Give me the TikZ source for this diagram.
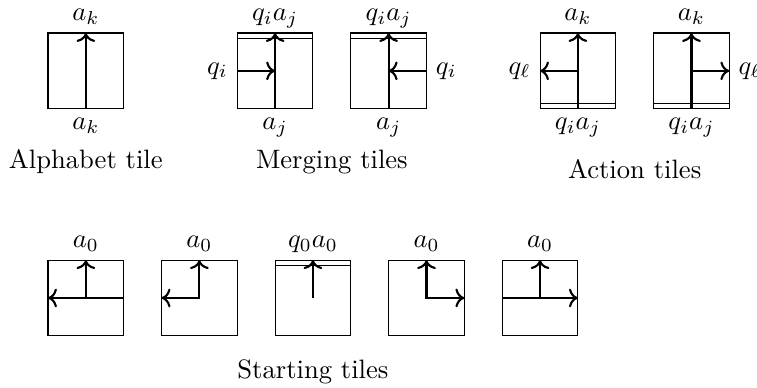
\documentclass[tikz,border=0pt]{standalone}
\usepackage{tikz}
\usetikzlibrary{arrows.meta, positioning, calc}

\begin{document}
\begin{tikzpicture}[
  tile/.style={rectangle, draw, minimum size=1cm, inner sep=0pt, outer sep=0pt},
  wire/.style={->, thick},
  seam/.style={draw},
  toplbl/.style={above, text depth=0.25ex},
  botlbl/.style={below},
  caption/.style={font=\normalsize},
]
  \useasboundingbox (-0.634,-3.689) rectangle (9.366,1.436);

  % Alphabet tile
  \node[tile] (alpha) at (0.5,0.5) {};
  \draw[wire] (alpha.south) -- (alpha.north);
  \node[toplbl] (alpha-top) at (alpha.north) {$a_k$};
  \node[botlbl] (alpha-bot) at (alpha.south) {$a_k$};
  \node[caption] (alpha-cap) at (0.5,-0.70) {Alphabet tile};

  % Merging tiles
  \node[tile] (merge-l) at (3.0,0.5) {};
  \draw[seam] ([yshift=-0.07cm]merge-l.north west) -- ([yshift=-0.07cm]merge-l.north east);
  \draw[wire] (merge-l.south) -- (merge-l.north);
  \draw[wire] (merge-l.west) -- (merge-l.center);
  \node[toplbl] (merge-l-top) at (merge-l.north) {$q_ia_j$};
  \node[botlbl] (merge-l-bot) at (merge-l.south) {$a_j$};
  \node[left] (merge-l-side) at (merge-l.west) {$q_i$};

  \node[tile] (merge-r) at (4.5,0.5) {};
  \draw[seam] ([yshift=-0.07cm]merge-r.north west) -- ([yshift=-0.07cm]merge-r.north east);
  \draw[wire] (merge-r.south) -- (merge-r.north);
  \draw[wire] (merge-r.east) -- (merge-r.center);
  \node[toplbl] (merge-r-top) at (merge-r.north) {$q_ia_j$};
  \node[botlbl] (merge-r-bot) at (merge-r.south) {$a_j$};
  \node[right] (merge-r-side) at (merge-r.east) {$q_i$};
  \node[caption] (merge-cap) at (3.75,-0.70) {Merging tiles};

  % Action tiles
  \node[tile] (act-l) at (7.0,0.5) {};
  \draw[seam] ([yshift=0.07cm]act-l.south west) -- ([yshift=0.07cm]act-l.south east);
  \draw[wire] (act-l.south) -- (act-l.north);
  \draw[wire] (act-l.center) -- (act-l.west);
  \node[toplbl] (act-l-top) at (act-l.north) {$a_k$};
  \node[botlbl] (act-l-bot) at (act-l.south) {$q_ia_j$};
  \node[left] (act-l-side) at (act-l.west) {$q_\ell$};

  \node[tile] (act-r) at (8.5,0.5) {};
  \draw[seam] ([yshift=0.07cm]act-r.south west) -- ([yshift=0.07cm]act-r.south east);
  \draw[wire] (act-r.south) -- (act-r.north);
  \draw[wire] (act-r.center) -- (act-r.east);
  \node[toplbl] (act-r-top) at (act-r.north) {$a_k$};
  \node[botlbl] (act-r-bot) at (act-r.south) {$q_ia_j$};
  \node[right] (act-r-side) at (act-r.east) {$q_\ell$};
  \node[caption] (act-cap) at (7.75,-0.80) {Action tiles};

  % Starting tiles
  \node[tile] (start-1) at (0.5,-2.5) {};
  \draw[wire] (start-1.east) -- (start-1.west);
  \draw[wire] (start-1.center) -- (start-1.north);
  \node[toplbl] (start-1-top) at (start-1.north) {$a_0$};

  \node[tile] (start-2) at (2.0,-2.5) {};
  \draw[wire, <->] (start-2.west) -- (start-2.center) -- (start-2.north);
  \node[toplbl] (start-2-top) at (start-2.north) {$a_0$};

  \node[tile] (start-3) at (3.5,-2.5) {};
  \draw[seam] ([yshift=-0.07cm]start-3.north west) -- ([yshift=-0.07cm]start-3.north east);
  \draw[wire] (start-3.center) -- (start-3.north);
  \node[toplbl] (start-3-top) at (start-3.north) {$q_0a_0$};

  \node[tile] (start-4) at (5.0,-2.5) {};
  \draw[wire, <->] (start-4.north) -- (start-4.center) -- (start-4.east);
  \node[toplbl] (start-4-top) at (start-4.north) {$a_0$};

  \node[tile] (start-5) at (6.5,-2.5) {};
  \draw[wire] (start-5.west) -- (start-5.east);
  \draw[wire] (start-5.center) -- (start-5.north);
  \node[toplbl] (start-5-top) at (start-5.north) {$a_0$};

  \node[caption] (start-cap) at (3.5,-3.47) {Starting tiles};
\end{tikzpicture}
\end{document}
